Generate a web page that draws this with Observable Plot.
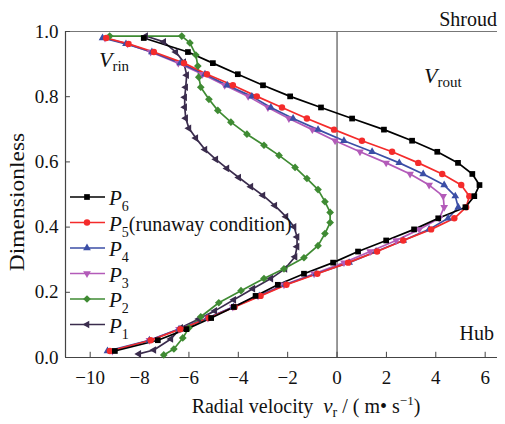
<!DOCTYPE html>
<html><head><meta charset="utf-8">
<script src="https://cdn.jsdelivr.net/npm/d3@7"></script>
<script src="https://cdn.jsdelivr.net/npm/@observablehq/plot@0.6"></script>
<style>
html,body{margin:0;padding:0;background:#fff;}
#chart svg{display:block;}
</style></head><body><div id="chart"></div>
<script>
// ---------- data ----------
const seriesNames = ["P6", "P5", "P4", "P3", "P2", "P1"];
const seriesColors = ["#000000", "#f42b2b", "#3b4ea6", "#b35bb9", "#3f8b33", "#3a2c4d"];
const xTicks = [-10, -8, -6, -4, -2, 0, 2, 4, 6];
const yTicks = [0, 0.2, 0.4, 0.6, 0.8, 1.0];

const p6Y = [0.98,0.937,0.903,0.869,0.835,0.801,0.767,0.733,0.699,0.665,0.631,0.597,0.563,0.529,0.495,0.461,0.427,0.393,0.359,0.325,0.291,0.257,0.223,0.189,0.155,0.121,0.087,0.053,0.02];
const p6X = [-7.83,-6.04,-5.03,-4.02,-3.0,-1.9,-0.65,0.61,1.9,3.04,4.06,4.9,5.48,5.77,5.56,5.2,4.1,3.12,1.99,0.85,-0.16,-1.34,-2.4,-3.3,-4.18,-5.1,-6.1,-7.26,-9.0];

const p345Y = [0.98,0.962,0.937,0.903,0.869,0.835,0.801,0.767,0.733,0.699,0.665,0.631,0.597,0.563,0.529,0.495,0.461,0.427,0.393,0.359,0.325,0.291,0.257,0.223,0.189,0.155,0.121,0.087,0.053,0.02];
const p5X = [-9.35,-8.45,-7.42,-6.2,-5.27,-4.22,-3.25,-2.23,-1.22,-0.12,1.01,2.23,3.29,4.26,5.03,5.36,5.23,4.75,3.81,2.68,1.62,0.45,-0.8,-2.05,-3.1,-4.15,-5.2,-6.35,-7.55,-9.2];
const p4X = [-9.5,-8.55,-7.5,-6.35,-5.35,-4.45,-3.45,-2.68,-1.78,-0.77,0.28,1.42,2.52,3.49,4.34,4.79,4.91,4.5,3.73,2.68,1.58,0.49,-0.85,-2.1,-3.15,-4.2,-5.25,-6.4,-7.6,-9.3];
const p3X = [-9.4,-8.48,-7.55,-6.43,-5.45,-4.55,-3.6,-2.8,-1.95,-1.0,-0.08,0.93,1.99,2.96,3.73,4.3,4.34,4.14,3.33,2.39,1.34,0.28,-0.93,-2.15,-3.2,-4.22,-5.23,-6.4,-7.6,-9.1];

const p2Y = [0.986,0.986,0.965,0.928,0.894,0.860,0.829,0.792,0.758,0.722,0.685,0.651,0.620,0.583,0.549,0.515,0.478,0.445,0.414,0.380,0.343,0.306,0.272,0.242,0.205,0.168,0.125,0.091,0.060,0.026,0.008];
const p2X = [-9.21,-6.29,-5.96,-5.72,-5.64,-5.6,-5.52,-5.19,-4.83,-4.30,-3.65,-2.96,-2.35,-1.70,-1.22,-0.77,-0.49,-0.28,-0.28,-0.49,-0.77,-1.34,-2.15,-2.96,-3.89,-4.79,-5.52,-6.0,-6.25,-6.61,-7.02];

const p1Y = [0.986,0.968,0.937,0.906,0.866,0.829,0.798,0.768,0.734,0.703,0.673,0.638,0.608,0.580,0.552,0.524,0.497,0.466,0.432,0.401,0.370,0.340,0.309,0.272,0.242,0.211,0.177,0.143,0.118,0.091,0.057,0.023,0.011];
const p1X = [-7.75,-7.02,-6.53,-6.21,-6.09,-6.13,-6.17,-6.17,-6.13,-6.0,-5.72,-5.35,-4.91,-4.46,-3.98,-3.49,-3.0,-2.52,-2.07,-1.74,-1.62,-1.62,-1.70,-2.11,-2.68,-3.41,-4.18,-4.95,-5.6,-6.33,-6.73,-7.42,-8.03];

// ---------- symbols ----------
const symTriUp = {draw(c, s){const R=Math.sqrt(s)*0.72; c.moveTo(0,-R); c.lineTo(R*0.866,R/2); c.lineTo(-R*0.866,R/2); c.closePath();}};
const symTriDown = {draw(c, s){const R=Math.sqrt(s)*0.72; c.moveTo(0,R); c.lineTo(R*0.866,-R/2); c.lineTo(-R*0.866,-R/2); c.closePath();}};
const symTriLeft = {draw(c, s){const R=Math.sqrt(s)*0.72; c.moveTo(-R,0); c.lineTo(R/2,-R*0.866); c.lineTo(R/2,R*0.866); c.closePath();}};
const symSquare = {draw(c, s){const h=Math.sqrt(s)*0.46; c.rect(-h,-h,2*h,2*h);}};
const symCircle = {draw(c, s){const r=Math.sqrt(s)*0.52; c.moveTo(r,0); c.arc(0,0,r,0,2*Math.PI);}};
const symDiamond = {draw(c, s){const h=Math.sqrt(s)*0.62; c.moveTo(0,-h); c.lineTo(h,0); c.lineTo(0,h); c.lineTo(-h,0); c.closePath();}};
const seriesSymbols = [symSquare, symCircle, symTriUp, symTriDown, symDiamond, symTriLeft];

// ---------- rows ----------
const seriesData = {P6: [p6X, p6Y], P5: [p5X, p345Y], P4: [p4X, p345Y], P3: [p3X, p345Y], P2: [p2X, p2Y], P1: [p1X, p1Y]};
const drawOrder = ["P1", "P2", "P3", "P4", "P5", "P6"];
const rows = [];
for (const name of drawOrder) {
  const [xs, ys] = seriesData[name];
  xs.forEach((x, i) => rows.push({series: name, x, y: ys[i]}));
}

const font = "'Liberation Serif', 'Times New Roman', serif";
const minusFmt = d => d < 0 ? "\u2212" + Math.abs(d) : String(d);
const axisColor = "#444";

const chart = Plot.plot({
  width: 505,
  height: 424,
  marginLeft: 65,
  marginRight: 8,
  marginTop: 31,
  marginBottom: 67,
  style: {fontFamily: font, fontSize: "19px", background: "#fff", color: "#111"},
  x: {domain: [-11, 6.5]},
  y: {domain: [0, 1]},
  color: {domain: seriesNames, range: seriesColors},
  symbol: {domain: seriesNames, range: seriesSymbols},
  marks: [
    Plot.ruleX([0], {stroke: "#333", strokeWidth: 1}),
    Plot.ruleY([1], {stroke: "#777", strokeWidth: 1.2}),
    Plot.ruleY([0], {stroke: axisColor, strokeWidth: 1.2}),
    Plot.ruleX([-11], {stroke: axisColor, strokeWidth: 1.2}),
    Plot.ruleX(xTicks, {x: d => d, y1: 0, y2: 0.016, stroke: axisColor}),
    Plot.ruleY(yTicks, {y: d => d, x1: -11, x2: -10.8, stroke: axisColor}),
    Plot.axisX({ticks: xTicks, tickSize: 0, tickPadding: 13, tickFormat: minusFmt, label: null, fontSize: 19}),
    Plot.axisY({ticks: yTicks, tickSize: 0, tickPadding: 7, tickFormat: d3.format(".1f"), label: null, fontSize: 19}),
    Plot.line(rows, {x: "x", y: "y", z: "series", stroke: "series", strokeWidth: 1.7}),
    Plot.dot(rows, {x: "x", y: "y", fill: "series", symbol: "series", r: 3.5, stroke: "none"})
  ]
});

document.getElementById("chart").appendChild(chart);

// ---------- annotations & legend ----------
const svg = d3.select(chart);
const g = svg.append("g").attr("font-family", font).attr("fill", "#111");

function addText(x, y, parts, opts = {}) {
  const t = g.append("text").attr("x", x).attr("y", y).attr("font-size", opts.size || 20)
    .attr("text-anchor", opts.anchor || "start");
  if (opts.transform) t.attr("transform", opts.transform);
  for (const p of parts) {
    const s = t.append("tspan").text(p.t);
    if (p.italic) s.attr("font-style", "italic");
    if (p.size) s.attr("font-size", p.size);
    if (p.dy) s.attr("dy", p.dy);
  }
  return t;
}

addText(497, 26, [{t: "Shroud"}], {anchor: "end", size: 20});
addText(494, 340, [{t: "Hub"}], {anchor: "end", size: 20});
addText(99, 67, [{t: "V", italic: true, size: 22}, {t: "rin", size: 15, dy: 4}]);
addText(424, 83, [{t: "V", italic: true, size: 22}, {t: "rout", size: 15, dy: 4}]);
addText(306, 413, [
  {t: "Radial velocity  "},
  {t: "v", italic: true, size: 21},
  {t: "r", size: 14, dy: 4},
  {t: " / ( m\u2022 s", dy: -4},
  {t: "\u22121", size: 13, dy: -8},
  {t: ")", dy: 8}
], {anchor: "middle", size: 20});
addText(0, 0, [{t: "Dimensionless"}], {anchor: "middle", size: 21, transform: "translate(24,202) rotate(-90) scale(1.12,1)"});

// legend
const legendOrder = ["P6", "P5", "P4", "P3", "P2", "P1"];
legendOrder.forEach((name, i) => {
  const idx = seriesNames.indexOf(name);
  const cy = 197 + 25.5 * i;
  const color = seriesColors[idx];
  g.append("line").attr("x1", 70).attr("x2", 105).attr("y1", cy).attr("y2", cy)
    .attr("stroke", color).attr("stroke-width", 1.7);
  g.append("path").attr("transform", `translate(87,${cy})`)
    .attr("d", d3.symbol().type(seriesSymbols[idx]).size(Math.PI * 3.5 * 3.5)())
    .attr("fill", color);
  const parts = [{t: "P", italic: true, size: 21}, {t: name.slice(1), size: 14, dy: 6}];
  if (name === "P5") parts.push({t: "(runaway condition)", size: 20, dy: -6});
  addText(109, cy + 8, parts, {size: 20});
});
</script>
</body></html>
